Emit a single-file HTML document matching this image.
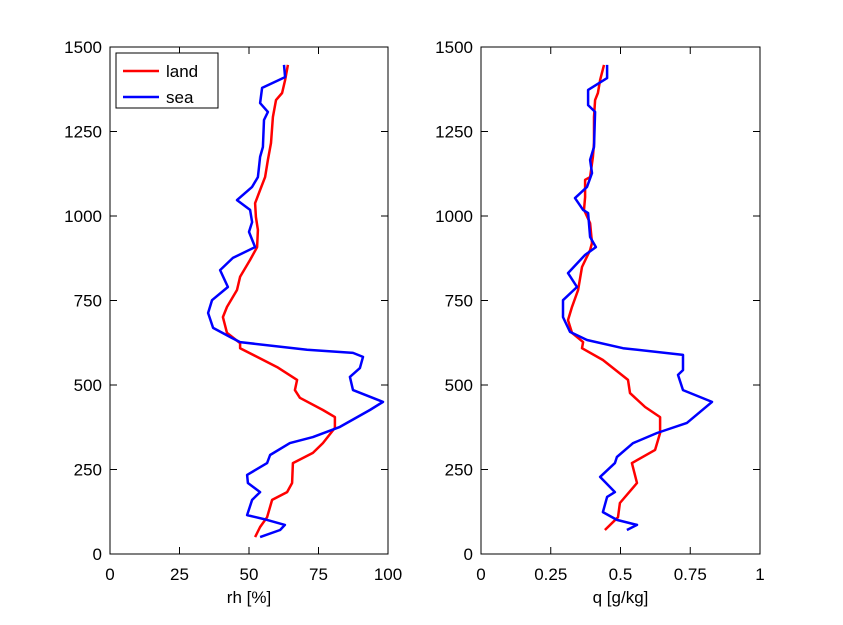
<!DOCTYPE html>
<html><head><meta charset="utf-8"><style>
html,body{margin:0;padding:0;background:#fff;}
svg{display:block;font-family:"Liberation Sans",Arial,sans-serif;}
</style></head><body>
<svg id="c" width="843" height="625" viewBox="0 0 843 625"></svg>
<script>
const landH=[1447,1402,1364,1343,1293,1216,1166,1115,1077,1038,997,959,908,870,820,781,731,701,654,624,609,583,553,515,485,462,426,405,373,328,299,269,210,183,160,109,80,50];
const landRh=[64.0,63.0,61.9,59.7,58.6,57.9,56.8,55.8,54.0,52.2,52.5,53.2,52.9,50.4,46.8,45.7,42.1,40.6,42.1,46.8,46.8,52.9,60.1,67.3,66.5,68.3,76.6,80.9,80.9,76.6,73.0,65.8,65.5,63.7,58.3,56.5,54.0,52.2];
const seaH=[1447,1411,1379,1334,1308,1284,1204,1175,1115,1086,1047,1018,982,953,908,876,840,790,751,713,669,639,627,604,595,583,550,524,485,450,426,376,346,328,293,269,234,210,183,160,115,101,86,71,50];
const seaRh=[62.6,63.0,54.7,54.0,56.8,55.4,55.0,54.0,53.2,51.1,45.7,50.4,51.1,50.0,52.2,44.2,39.6,42.4,36.7,35.3,37.1,43.9,46.8,70.9,87.4,91.0,89.9,86.3,87.4,98.2,93.5,82.7,73.0,64.7,57.6,56.5,49.3,49.6,54.0,51.1,49.3,56.5,62.9,61.2,54.0];
const landQH=[1447,1402,1364,1343,1293,1216,1175,1115,1107,1056,1018,979,920,899,849,781,731,692,654,627,609,574,515,476,435,405,358,308,269,210,151,109,71];
const landQ=[.441,.427,.419,.409,.405,.405,.401,.391,.373,.373,.369,.391,.398,.391,.362,.348,.326,.312,.326,.366,.362,.437,.527,.534,.588,.642,.642,.624,.541,.559,.498,.491,.444];
const seaQH=[1447,1408,1373,1328,1308,1204,1166,1127,1086,1053,1018,1009,938,908,885,831,790,751,701,657,633,609,589,544,530,485,450,388,358,328,287,269,228,183,169,124,101,86,71];
const seaQ=[.452,.452,.384,.384,.409,.405,.391,.398,.380,.337,.366,.384,.391,.412,.373,.312,.344,.294,.294,.319,.380,.509,.724,.724,.706,.724,.828,.738,.631,.545,.487,.480,.427,.480,.452,.437,.487,.559,.523];
const yTicks=[0,250,500,750,1000,1250,1500];
const rhTicks=[0,25,50,75,100];
const qTicks=[0,0.25,0.5,0.75,1];
const qTickLabels=["0","0.25","0.5","0.75","1"];

const NS="http://www.w3.org/2000/svg";
const svg=document.getElementById('c');
function mk(t,a,p){const e=document.createElementNS(NS,t);for(const k in a)e.setAttribute(k,a[k]);(p||svg).appendChild(e);return e;}
const Y0=554,Y1=47;
function yS(h){return Y0+(Y1-Y0)*h/1500;}

function panel(name,x0,x1,xmax,xt,xl,xlabel,series){
  const g=mk('g',{});
  
  
  const xS=v=>x0+(x1-x0)*v/xmax;
  const box=mk('rect',{x:x0,y:Y1,width:x1-x0,height:Y0-Y1,fill:'#fff',stroke:'#000','stroke-width':1},g);
  
  
  yTicks.forEach(t=>{
    const y=yS(t);
    mk('line',{x1:x0,x2:x0+7,y1:y,y2:y,stroke:'#000'},g);
    mk('line',{x1:x1,x2:x1-7,y1:y,y2:y,stroke:'#000'},g);
    const tx=mk('text',{x:x0-8,y:y+6,'text-anchor':'end','font-size':17},g);
    tx.textContent=t;
    
    
  });
  xt.forEach((t,i)=>{
    const x=xS(t);
    mk('line',{x1:x,x2:x,y1:Y0,y2:Y0-7,stroke:'#000'},g);
    mk('line',{x1:x,x2:x,y1:Y1,y2:Y1+7,stroke:'#000'},g);
    const tx=mk('text',{x:x,y:580,'text-anchor':'middle','font-size':17},g);
    tx.textContent=xl[i];
    
    
  });
  const lab=mk('text',{x:(x0+x1)/2,y:603,'text-anchor':'middle','font-size':17},g);
  lab.textContent=xlabel;
  
  
  series.forEach(s=>{
    const pts=s.h.map((h,i)=>xS(s.v[i]).toFixed(1)+','+yS(h).toFixed(1)).join(' ');
    const pl=mk('polyline',{points:pts,fill:'none',stroke:s.c,'stroke-width':2.5,'stroke-linejoin':'round'},g);
    
    
  });
  return g;
}
panel('rh-panel',110,388,100,rhTicks,rhTicks.map(String),'rh [%]',[
  {h:landH,v:landRh,c:'#ff0000',n:'land-rh-line'},
  {h:seaH,v:seaRh,c:'#0000ff',n:'sea-rh-line'}]);
panel('q-panel',481,760,1,qTicks,qTickLabels,'q [g/kg]',[
  {h:landQH,v:landQ,c:'#ff0000',n:'land-q-line'},
  {h:seaQH,v:seaQ,c:'#0000ff',n:'sea-q-line'}]);

const lg=mk('g',{});


mk('rect',{x:116,y:53,width:102,height:55,fill:'#fff',stroke:'#000'},lg);
[['land','#ff0000',71],['sea','#0000ff',97]].forEach(e=>{
  const eg=mk('g',{},lg);
  
  
  mk('line',{x1:123,x2:159,y1:e[2],y2:e[2],stroke:e[1],'stroke-width':2.5},eg);
  const t=mk('text',{x:166,y:e[2]+6,'font-size':17},eg);
  t.textContent=e[0];
});
</script>
</body></html>
